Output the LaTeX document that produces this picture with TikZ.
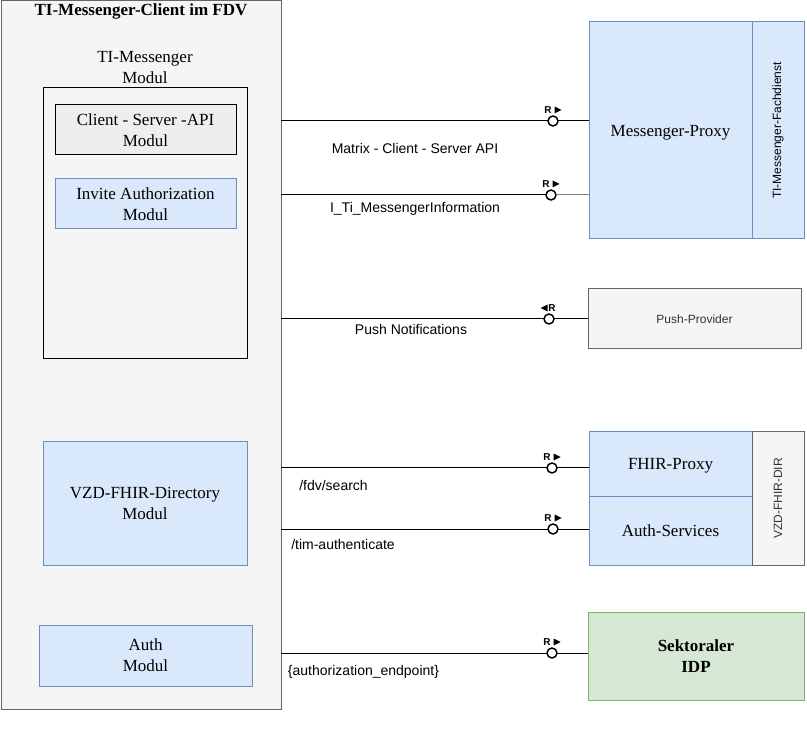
\documentclass[tikz,border=0pt]{standalone}
\usepackage{fontspec}
\setmainfont{Liberation Serif}
\setsansfont{Liberation Sans}
\definecolor{blueF}{HTML}{DAE8FC}
\definecolor{blueS}{HTML}{6C8EBF}
\definecolor{grayF}{HTML}{F5F5F5}
\definecolor{grayS}{HTML}{666666}
\definecolor{greenF}{HTML}{D5E8D4}
\definecolor{greenS}{HTML}{82B366}
\definecolor{apiF}{HTML}{EEEEEE}
\definecolor{darkT}{HTML}{333333}
% place a box by its pixel corners: name, style, x1, y1, x2, y2, text
\newcommand\pxbox[7]{\node[#2,minimum width={(#5-#3)*0.75pt},minimum height={(#6-#4)*0.75pt}] (#1) at ({(#3+#5)/2},{(#4+#6)/2}) {#7};}
\begin{document}
\begin{tikzpicture}[x=0.75pt,y=-0.75pt,
  every node/.style={inner sep=0pt,outer sep=0pt},
  serifbig/.style={font=\fontsize{12.75}{15.75}\selectfont},
  blk/.style={draw,line width=0.75pt,align=center,serifbig},
  bluebox/.style={blk,fill=blueF,draw=blueS},
  graybox/.style={blk,fill=grayF,draw=grayS},
  greenbox/.style={blk,fill=greenF,draw=greenS,font=\bfseries\fontsize{12.75}{15.75}\selectfont},
  apibox/.style={blk,fill=apiF,draw=black},
  innerbox/.style={blk,fill=grayF,draw=black},
  sidecol/.style={font=\sffamily\fontsize{9}{10}\selectfont,rotate=90},
  conn/.style={line width=0.75pt,draw=black},
  iface/.style={circle,draw=black,fill=white,line width=1.1pt,minimum size=7.5pt},
  elabel/.style={font=\sffamily\fontsize{10.5}{12}\selectfont},
  rfont/.style={font=\sffamily\bfseries\fontsize{7.5}{8}\selectfont},
  rout/.pic={\node[rfont] (-r) at (-5,-11) {R}; \fill (1.5,-14.5) -- (8.5,-11) -- (1.5,-7.5) -- cycle;},
  rin/.pic={\node[rfont] (-r) at (3,-11) {R}; \fill (-1.5,-14.5) -- (-8.5,-11) -- (-1.5,-7.5) -- cycle;}
]
\useasboundingbox[fill=white] (0,0) rectangle (807,755);

% client side
\pxbox{fdv}{graybox}{1}{1}{281}{709}{}
\node[font=\bfseries\fontsize{12.75}{15}\selectfont] (fdvtitle) at (141,11) {TI-Messenger-Client im FDV};
\node[serifbig,align=center] (tilabel) at (145,67.5) {TI-Messenger\\Modul};
\pxbox{timod}{innerbox}{43}{88}{247}{359}{}
\pxbox{csapi}{apibox}{55}{105}{236}{155}{Client - Server -API\\Modul}
\pxbox{invite}{bluebox}{55}{179}{236}{229}{Invite Authorization\\Modul}
\pxbox{vzdmod}{bluebox}{43}{442}{247}{565}{VZD-FHIR-Directory\\Modul}
\pxbox{authmod}{bluebox}{39}{625}{252}{686}{Auth\\Modul}

% service side
\pxbox{proxy}{bluebox,text depth=0pt}{589}{22}{752}{239}{Messenger-Proxy}
\pxbox{fachd}{bluebox}{752}{22}{804}{239}{}
\node[sidecol] (fachdtext) at (fachd.center) {TI-Messenger-Fachdienst};
\pxbox{push}{graybox,font=\sffamily\fontsize{9}{10}\selectfont,text=darkT}{588}{289}{801}{349}{Push-Provider}
\pxbox{fhir}{bluebox,text depth=0pt}{589}{432}{752}{496}{FHIR-Proxy}
\pxbox{authsrv}{bluebox}{589}{496}{752}{565}{Auth-Services}
\pxbox{vzddir}{graybox}{752}{432}{804}{565}{}
\node[sidecol,text=darkT] (vzdtext) at (vzddir.center) {VZD-FHIR-DIR};
\pxbox{idp}{greenbox}{588}{612}{804}{700}{Sektoraler\\IDP}

% provided interfaces
\node[iface] (i1) at (553,121) {};
\node[iface] (i2) at (551,195) {};
\node[iface] (i3) at (549,319) {};
\node[iface] (i4) at (552,468) {};
\node[iface] (i5) at (553,529) {};
\node[iface] (i6) at (552,653) {};

% connectors
\draw[conn] (fdv.east |- i1) -- (i1);
\draw[conn] (i1) -- (proxy.west |- i1);
\draw[conn] (fdv.east |- i2) -- (i2);
\draw[conn,draw=gray] (i2) -- (proxy.west |- i2);
\draw[conn] (fdv.east |- i3) -- (i3);
\draw[conn] (i3) -- (push.west |- i3);
\draw[conn] (fdv.east |- i4) -- (i4);
\draw[conn] (i4) -- (fhir.west |- i4);
\draw[conn] (fdv.east |- i5) -- (i5);
\draw[conn] (i5) -- (authsrv.west |- i5);
\draw[conn] (fdv.east |- i6) -- (i6);
\draw[conn] (i6) -- (idp.west |- i6);

% request direction markers
\pic (m1) at (i1) {rout};
\pic (m2) at (i2) {rout};
\pic (m3) at (i3) {rin};
\pic (m4) at (i4) {rout};
\pic (m5) at (i5) {rout};
\pic (m6) at (i6) {rout};

% connector labels
\node[elabel] (l1) at (415,148) {Matrix - Client - Server API};
\node[elabel] (l2) at (415,209) {I\_Ti\_MessengerInformation};
\node[elabel] (l3) at (411,329) {Push Notifications};
\node[elabel] (l4) at (333.5,485) {/fdv/search};
\node[elabel] (l5) at (343,544) {/tim-authenticate};
\node[elabel] (l6) at (363.5,672) {\{authorization\_endpoint\}};
\end{tikzpicture}
\end{document}
